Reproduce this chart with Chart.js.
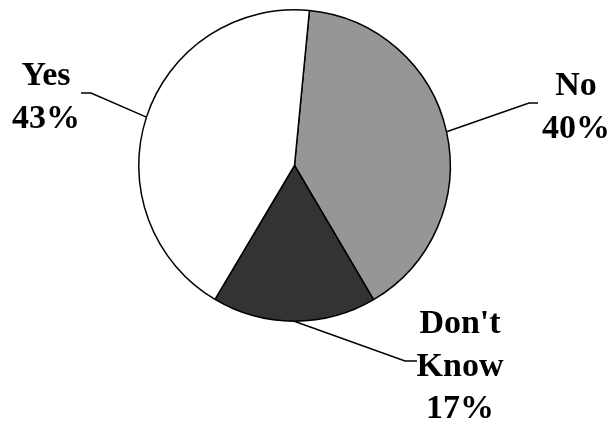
<!DOCTYPE html>
<html>
<head>
<meta charset="utf-8">
<script src="https://cdn.jsdelivr.net/npm/chart.js@4"></script>
<style>
  html, body { margin: 0; padding: 0; background: #fff; }
  #wrap { width: 611px; height: 423px; position: relative; }
</style>
</head>
<body>
<div id="wrap"><canvas id="pieChart" width="611" height="423"></canvas></div>
<script>
// answers, in drawing order (clockwise from the top)
const categories = ["No", "Don't Know", "Yes"];
const labelLines = [["No"], ["Don't", "Know"], ["Yes"]];
const percents = [40, 17, 43];
const sliceColors = ["#969696", "#333333", "#ffffff"];

// where each label block sits: elbow of leader, end of the short flat piece, text centre, first baseline
const labelLayout = [
  { elbow: [529, 103], tail: [538, 103], x: 576, y: 95 },
  { elbow: [405, 361], tail: [417, 361], x: 460, y: 333 },
  { elbow: [91, 93], tail: [81, 93], x: 46, y: 85 }
];

const pieLabels = {
  id: "pieLabels",
  afterDraw(chart) {
    const ctx = chart.ctx;
    const arcs = chart.getDatasetMeta(0).data;
    ctx.save();
    ctx.strokeStyle = "#000";
    ctx.lineWidth = 1.5;
    ctx.fillStyle = "#000";
    ctx.font = "bold 34px 'Liberation Serif', 'Times New Roman', serif";
    ctx.textAlign = "center";
    ctx.textBaseline = "alphabetic";
    arcs.forEach((arc, i) => {
      const p = arc.getProps(["x", "y", "startAngle", "endAngle", "outerRadius"], true);
      const mid = (p.startAngle + p.endAngle) / 2;
      const ex = p.x + Math.cos(mid) * p.outerRadius;
      const ey = p.y + Math.sin(mid) * p.outerRadius;
      const lay = labelLayout[i];
      ctx.beginPath();
      ctx.moveTo(ex, ey);
      ctx.lineTo(lay.elbow[0], lay.elbow[1]);
      ctx.lineTo(lay.tail[0], lay.tail[1]);
      ctx.stroke();
      const lines = labelLines[i].concat([percents[i] + "%"]);
      lines.forEach((t, k) => {
        ctx.fillText(t, lay.x, lay.y + k * 42.5);
      });
    });
    ctx.restore();
  }
};

const ctx = document.getElementById("pieChart").getContext("2d");
new Chart(ctx, {
  type: "pie",
  data: {
    labels: categories,
    datasets: [{
      data: percents,
      backgroundColor: sliceColors,
      borderColor: "#000",
      borderWidth: 1.5
    }]
  },
  options: {
    responsive: false,
    animation: false,
    rotation: 5.5,
    layout: {
      padding: { left: 138, right: 160, top: 9, bottom: 101 }
    },
    plugins: {
      legend: { display: false },
      tooltip: { enabled: false }
    }
  },
  plugins: [pieLabels]
});
</script>
</body>
</html>
